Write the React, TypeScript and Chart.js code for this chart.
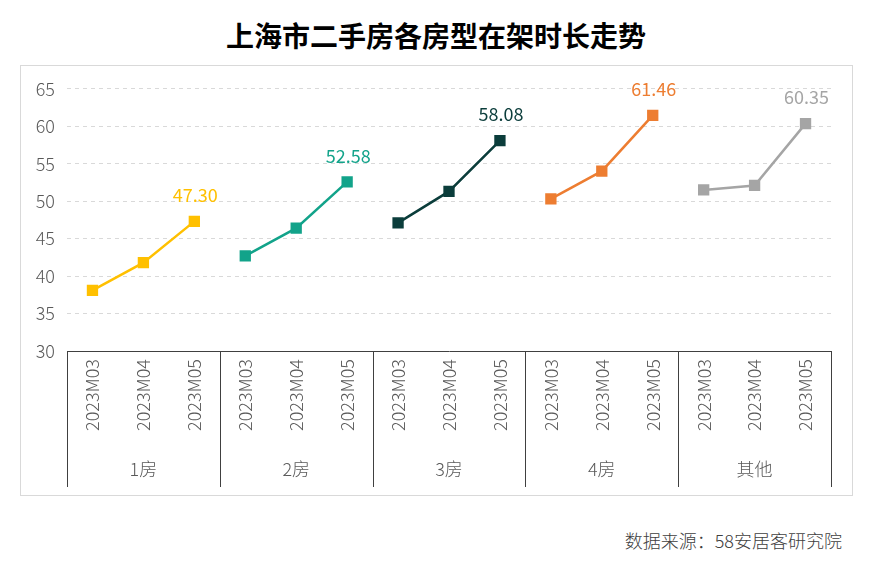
import React, { useEffect, useRef } from "react";
import { Chart, registerables } from "chart.js";

Chart.register(...registerables);

const months = ["2023M03", "2023M04", "2023M05"];
const groups = ["1房", "2房", "3房", "4房", "其他"];
const colors = ["#FFC000", "#12A38A", "#0B3D3B", "#ED7D31", "#A5A5A5"];
const room1 = [38.1, 41.8, 47.3];
const room2 = [42.7, 46.4, 52.58];
const room3 = [47.1, 51.3, 58.08];
const room4 = [50.3, 54.0, 61.46];
const others = [51.5, 52.1, 60.35];
const yTicks = [30, 35, 40, 45, 50, 55, 60, 65];

const series = [room1, room2, room3, room4, others];
const FONT = "'Noto Sans CJK SC', 'Noto Sans', sans-serif";

export default function App() {
  const ref = useRef<HTMLCanvasElement | null>(null);

  useEffect(() => {
    document.body.style.margin = "0";
    const labels: string[] = [];
    groups.forEach(() => months.forEach((m) => labels.push(m)));
    const datasets = series.map((vals, gi) => {
      const data: (number | null)[] = labels.map(() => null);
      vals.forEach((v, i) => (data[gi * 3 + i] = v));
      return {
        label: groups[gi],
        data,
        borderColor: colors[gi],
        backgroundColor: colors[gi],
        borderWidth: 2.5,
        pointStyle: "rect" as const,
        pointRadius: 8,
        pointBorderWidth: 0,
        spanGaps: false,
      };
    });

    const groupPlugin = {
      id: "groups",
      afterDraw(chart: any) {
        const ctx = chart.ctx;
        const x = chart.scales.x;
        const area = chart.chartArea;
        ctx.save();
        ctx.strokeStyle = "#404040";
        ctx.lineWidth = 1;
        const bounds: number[] = [area.left];
        for (let g = 1; g < groups.length; g++) {
          bounds.push((x.getPixelForValue(g * 3 - 1) + x.getPixelForValue(g * 3)) / 2);
        }
        bounds.push(area.right);
        bounds.forEach((b) => {
          const px = Math.round(b) + 0.5;
          ctx.beginPath();
          ctx.moveTo(px, area.bottom);
          ctx.lineTo(px, x.bottom);
          ctx.stroke();
        });
        ctx.fillStyle = "#595959";
        ctx.font = `300 18px ${FONT}`;
        ctx.textAlign = "center";
        ctx.textBaseline = "middle";
        groups.forEach((g, i) => {
          ctx.fillText(g, (bounds[i] + bounds[i + 1]) / 2, x.bottom - 18);
        });
        // data labels on last point of each group
        ctx.font = `18px ${FONT}`;
        ctx.textBaseline = "middle";
        chart.data.datasets.forEach((ds: any, di: number) => {
          const meta = chart.getDatasetMeta(di);
          const idx = di * 3 + 2;
          const pt = meta.data[idx];
          ctx.fillStyle = colors[di];
          ctx.fillText(series[di][2].toFixed(2), pt.x + 1, pt.y - 26);
        });
        ctx.restore();
      },
    };

    const chart = new Chart(ref.current!, {
      type: "line",
      data: { labels, datasets },
      plugins: [groupPlugin],
      options: {
        animation: false,
        responsive: false,
        layout: { padding: { left: 0, right: 21, top: 21, bottom: 8 } },
        plugins: { legend: { display: false }, tooltip: { enabled: false } },
        scales: {
          x: {
            type: "category",
            offset: true,
            grid: { display: false, drawTicks: false },
            border: { display: true, color: "#404040", width: 1 },
            ticks: {
              minRotation: 90,
              maxRotation: 90,
              padding: 8,
              color: "#595959",
              font: { size: 18, family: FONT, weight: 300 },
            },
            afterFit(scale: any) {
              scale.height = 136;
            },
          },
          y: {
            min: 30,
            max: 65,
            afterBuildTicks(scale: any) {
              scale.ticks = yTicks.map((v) => ({ value: v }));
            },
            grid: { color: "#d9d9d9", drawTicks: false, tickBorderDash: [4, 4] },
            border: { display: false, dash: [4, 4] },
            ticks: {
              padding: 12,
              color: "#595959",
              font: { size: 18, family: FONT, weight: 300 },
            },
            afterFit(scale: any) {
              scale.width = 46;
            },
          },
        },
      },
    });
    return () => chart.destroy();
  }, []);

  return (
    <div style={{ position: "relative", width: 872, height: 566, background: "#fff", fontFamily: FONT }}>
      <div
        style={{
          position: "absolute",
          top: 16,
          left: 0,
          width: 872,
          textAlign: "center",
          fontSize: 28,
          fontWeight: "bold",
          lineHeight: "38px",
          color: "#000",
        }}
      >
        上海市二手房各房型在架时长走势
      </div>
      <div
        style={{
          position: "absolute",
          left: 20,
          top: 65,
          width: 831,
          height: 429,
          border: "1px solid #d9d9d9",
        }}
      >
        <canvas ref={ref} width={831} height={429} style={{ display: "block" }} />
      </div>
      <div
        style={{
          position: "absolute",
          right: 30,
          top: 527,
          fontSize: 18,
          fontWeight: 300,
          lineHeight: "26px",
          color: "#404040",
        }}
      >
        数据来源：58安居客研究院
      </div>
    </div>
  );
}
